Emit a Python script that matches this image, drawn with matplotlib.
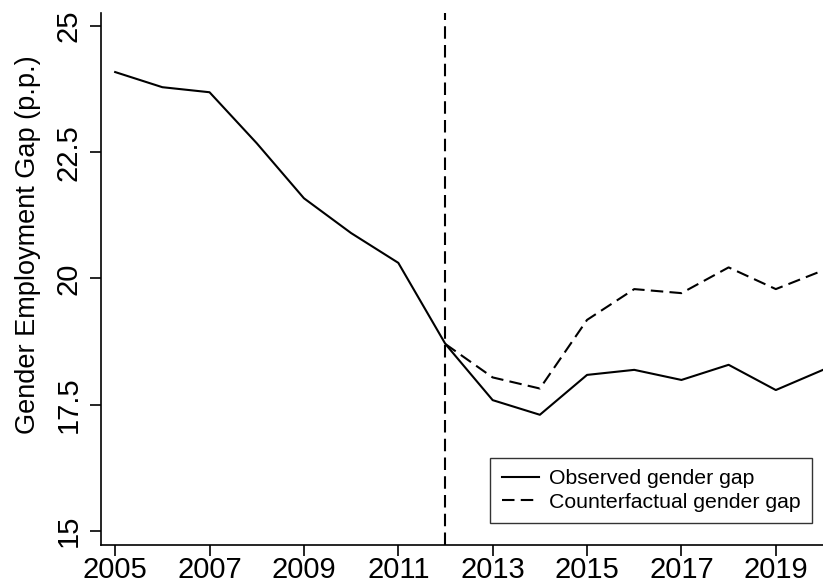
import matplotlib
matplotlib.use("Agg")
import matplotlib.pyplot as plt

plt.rcParams['font.family'] = ['Liberation Sans', 'DejaVu Sans']

years = [2005, 2006, 2007, 2008, 2009, 2010, 2011, 2012, 2013, 2014, 2015, 2016, 2017, 2018, 2019, 2020]
observed = [24.09, 23.79, 23.69, 22.68, 21.59, 20.90, 20.31, 18.70, 17.59, 17.30, 18.09, 18.19, 17.99, 18.29, 17.79, 18.19]
cf_years = [2012, 2013, 2014, 2015, 2016, 2017, 2018, 2019, 2020]
counterfactual = [18.70, 18.04, 17.82, 19.18, 19.79, 19.71, 20.22, 19.79, 20.16]
policy_year = 2012

xticks = [2005, 2007, 2009, 2011, 2013, 2015, 2017, 2019]
yticks = [15, 17.5, 20, 22.5, 25]
ylabels = ["15", "17.5", "20", "22.5", "25"]

fig = plt.figure(figsize=(8.23, 5.88), dpi=100)
ax = fig.add_axes([101/823, 1 - 545/588, 722/823, 532/588])

dash = (0, (6, 3))
ax.plot(years, observed, color='black', lw=1.5, label='Observed gender gap')
ax.plot(cf_years, counterfactual, color='black', lw=1.5, ls=dash, label='Counterfactual gender gap')
ax.axvline(policy_year, color='black', lw=1.5, ls=dash)

ax.set_xlim(2004.70, 2020.0)
ax.set_ylim(14.72, 25.26)
ax.set_xticks(xticks)
ax.set_xticklabels([str(x) for x in xticks], fontsize=21)
ax.set_yticks(yticks)
ax.set_yticklabels(ylabels, fontsize=21, rotation=90, va='center')
ax.tick_params(direction='out', length=8, width=1.2)
ax.tick_params(axis='x', pad=0)
ax.tick_params(axis='y', pad=5)
ax.set_ylabel('Gender Employment Gap (p.p.)', fontsize=19.5, va='center')
ax.yaxis.set_label_coords(-0.101, 0.565)

ax.spines['top'].set_visible(False)
ax.spines['right'].set_visible(False)
ax.spines['left'].set_linewidth(1.2)
ax.spines['bottom'].set_linewidth(1.2)

leg = ax.legend(loc='lower right', bbox_to_anchor=(0.985, 0.041), borderaxespad=0,
                fontsize=15.3, frameon=True, fancybox=False, handlelength=1.75,
                borderpad=0.55, labelspacing=0.2, handletextpad=0.45)
leg.get_frame().set_edgecolor('black')
leg.get_frame().set_linewidth(1.0)

fig.savefig('out.png', dpi=100)
